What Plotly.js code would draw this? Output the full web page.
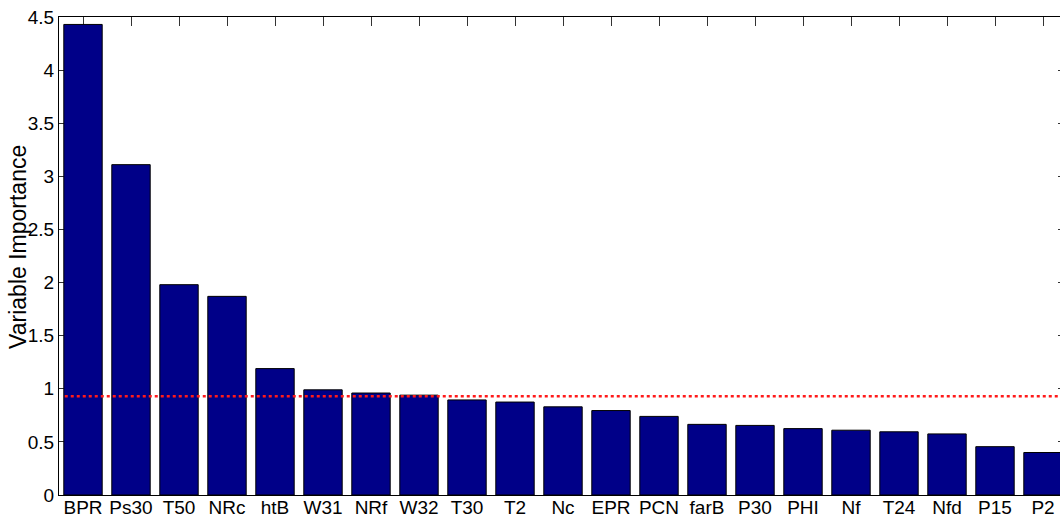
<!DOCTYPE html>
<html>
<head>
<meta charset="utf-8">
<script src="https://cdn.plot.ly/plotly-3.0.1.min.js"></script>
<style>
  html, body { margin: 0; padding: 0; background: #fff; overflow: hidden; }
  #chart { width: 1077px; height: 517px; }
</style>
</head>
<body>
<div id="chart"></div>
<script>
// Variable importance per engine signal, sorted descending
const variables = ["BPR", "Ps30", "T50", "NRc", "htB", "W31", "NRf", "W32", "T30", "T2",
                   "Nc", "EPR", "PCN", "farB", "P30", "PHI", "Nf", "T24", "Nfd", "P15", "P2"];
const importance = [4.43, 3.11, 1.98, 1.87, 1.19, 0.99, 0.96, 0.94, 0.895, 0.875,
                    0.83, 0.795, 0.74, 0.665, 0.655, 0.625, 0.61, 0.595, 0.575, 0.455, 0.40];
// Selection threshold drawn as a dotted line
const threshold = 0.93;
const thresholdSpan = [0.62, 21.5];

const yTicks = [0, 0.5, 1, 1.5, 2, 2.5, 3, 3.5, 4, 4.5];
const yTickText = ["0", "0.5", "1", "1.5", "2", "2.5", "3", "3.5", "4", "4.5"];

const positions = variables.map((_, i) => i + 1);

const font = "Arial, 'Liberation Sans', sans-serif";

const traces = [
  {
    type: "bar",
    x: positions,
    y: importance,
    width: 0.8,
    marker: { color: "#000088", line: { color: "#000000", width: 1 } },
    hoverinfo: "skip"
  },
  {
    type: "scatter",
    mode: "lines",
    x: thresholdSpan,
    y: [threshold, threshold],
    line: { color: "#ff1a1a", width: 2.5, dash: "3px,3px" },
    hoverinfo: "skip"
  }
];

const layout = {
  width: 1077,
  height: 517,
  margin: { l: 59, r: 10, t: 17, b: 22, pad: 0 },
  paper_bgcolor: "#ffffff",
  plot_bgcolor: "#ffffff",
  showlegend: false,
  font: { family: font, size: 19, color: "#000000" },
  xaxis: {
    range: [0.5, 21.5],
    tickmode: "array",
    tickvals: positions,
    ticktext: variables,
    ticks: "inside",
    ticklen: 9,
    tickcolor: "#333333",
    ticklabelstandoff: -5,
    showline: true,
    linecolor: "#000000",
    linewidth: 1,
    mirror: "ticks",
    showgrid: false,
    zeroline: false,
    layer: "below traces",
    automargin: false,
    tickfont: { family: font, size: 19, color: "#000000" }
  },
  yaxis: {
    range: [0, 4.5],
    tickmode: "array",
    tickvals: yTicks,
    ticktext: yTickText,
    ticks: "inside",
    ticklen: 9,
    tickcolor: "#333333",
    showline: true,
    linecolor: "#000000",
    linewidth: 1,
    mirror: "ticks",
    showgrid: false,
    zeroline: false,
    layer: "below traces",
    automargin: false,
    tickfont: { family: font, size: 19, color: "#000000" }
  },
  // y-axis label, placed just left of the tick labels
  annotations: [
    {
      text: "Variable Importance",
      xref: "paper", yref: "paper",
      x: -0.0407, y: 0.519,
      xanchor: "center", yanchor: "middle",
      textangle: -90,
      showarrow: false,
      font: { family: font, size: 23, color: "#000000" }
    }
  ]
};

Plotly.newPlot("chart", traces, layout, { displayModeBar: false, staticPlot: true });
</script>
</body>
</html>
